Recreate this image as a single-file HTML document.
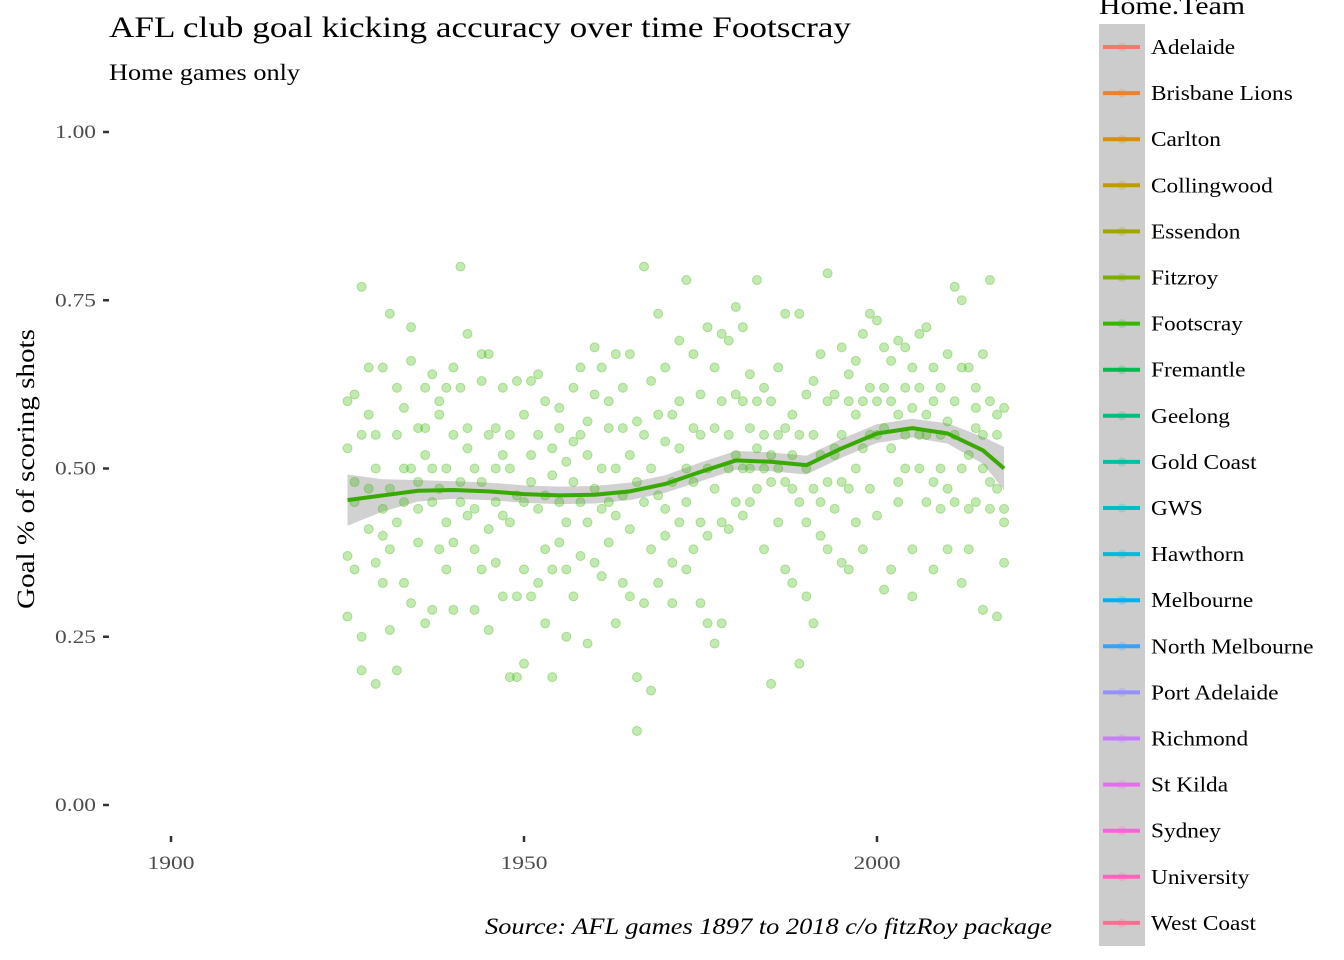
<!DOCTYPE html>
<html><head><meta charset="utf-8"><style>
html,body{margin:0;padding:0;background:#fff}
svg{display:block;font-family:"Liberation Serif",serif}
</style></head><body>
<svg id="chart" width="1344" height="960" viewBox="0 0 1344 960" xmlns="http://www.w3.org/2000/svg">
<text x="109" y="37" font-size="30" textLength="742" lengthAdjust="spacingAndGlyphs">AFL club goal kicking accuracy over time Footscray</text>
<text x="109" y="80" font-size="23" textLength="191" lengthAdjust="spacingAndGlyphs">Home games only</text>
<text transform="translate(34,469) rotate(-90)" text-anchor="middle" font-size="25" textLength="280" lengthAdjust="spacingAndGlyphs">Goal % of scoring shots</text>
<text x="485" y="934" font-size="23" font-style="italic" textLength="567" lengthAdjust="spacingAndGlyphs">Source: AFL games 1897 to 2018 c/o fitzRoy package</text>
<g id="axes"></g>
<g id="band"></g>
<g id="pts"></g>
<g id="line"></g>
<g id="legend"></g>
</svg>
<script>
const xTicks=[1900,1950,2000];
const yTicks=[0,0.25,0.5,0.75,1];
const yTickLabels=["0.00","0.25","0.50","0.75","1.00"];
const years=[1925,1926,1927,1928,1929,1930,1931,1932,1933,1934,1935,1936,1937,1938,1939,1940,1941,1942,1943,1944,1945,1946,1947,1948,1949,1950,1951,1952,1953,1954,1955,1956,1957,1958,1959,1960,1961,1962,1963,1964,1965,1966,1967,1968,1969,1970,1971,1972,1973,1974,1975,1976,1977,1978,1979,1980,1981,1982,1983,1984,1985,1986,1987,1988,1989,1990,1991,1992,1993,1994,1995,1996,1997,1998,1999,2000,2001,2002,2003,2004,2005,2006,2007,2008,2009,2010,2011,2012,2013,2014,2015,2016,2017,2018];
const values=[
[0.53,0.37,0.6,0.28],[0.48,0.61,0.35,0.45],[0.77,0.25,0.2,0.55],[0.47,0.58,0.41,0.65],[0.36,0.18,0.5,0.55],
[0.65,0.44,0.33,0.4],[0.73,0.26,0.47,0.38],[0.2,0.55,0.42,0.62],[0.59,0.33,0.45,0.5],[0.71,0.3,0.5,0.66],
[0.56,0.39,0.44,0.48],[0.27,0.52,0.56,0.62],[0.64,0.29,0.45,0.5],[0.38,0.58,0.47,0.6],[0.35,0.5,0.62,0.42],
[0.39,0.55,0.65,0.29],[0.8,0.48,0.62,0.45],[0.43,0.7,0.53,0.56],[0.29,0.44,0.5,0.38],[0.35,0.63,0.48,0.67],
[0.26,0.55,0.41,0.67],[0.5,0.36,0.56,0.45],[0.31,0.43,0.52,0.62],[0.19,0.5,0.42,0.55],[0.19,0.46,0.63,0.31],
[0.21,0.58,0.35,0.45],[0.63,0.52,0.31,0.48],[0.33,0.44,0.55,0.64],[0.27,0.6,0.38,0.46],[0.19,0.53,0.35,0.49],
[0.39,0.59,0.45,0.56],[0.25,0.42,0.51,0.35],[0.62,0.31,0.48,0.54],[0.45,0.55,0.37,0.65],[0.24,0.52,0.42,0.57],
[0.36,0.68,0.47,0.61],[0.44,0.5,0.65,0.34],[0.56,0.39,0.6,0.45],[0.27,0.5,0.67,0.43],[0.33,0.46,0.56,0.62],
[0.31,0.52,0.41,0.67],[0.19,0.11,0.48,0.57],[0.8,0.3,0.45,0.55],[0.17,0.5,0.38,0.63],[0.33,0.73,0.46,0.58],
[0.44,0.54,0.65,0.4],[0.3,0.48,0.58,0.36],[0.69,0.42,0.53,0.6],[0.35,0.5,0.78,0.45],[0.48,0.67,0.38,0.56],
[0.3,0.55,0.42,0.61],[0.4,0.5,0.71,0.27],[0.24,0.47,0.56,0.65],[0.27,0.42,0.6,0.7],[0.41,0.5,0.69,0.55],
[0.45,0.74,0.52,0.61],[0.43,0.6,0.71,0.5],[0.5,0.56,0.64,0.45],[0.47,0.78,0.53,0.6],[0.38,0.55,0.62,0.5],
[0.18,0.48,0.6,0.52],[0.42,0.55,0.65,0.5],[0.35,0.73,0.48,0.56],[0.33,0.47,0.58,0.52],[0.21,0.73,0.45,0.55],
[0.31,0.5,0.61,0.42],[0.27,0.47,0.55,0.63],[0.4,0.52,0.67,0.45],[0.79,0.48,0.38,0.6],[0.44,0.61,0.52,0.53],
[0.36,0.68,0.48,0.55],[0.47,0.6,0.35,0.64],[0.5,0.58,0.42,0.66],[0.38,0.7,0.53,0.6],[0.47,0.62,0.55,0.73],
[0.43,0.6,0.72,0.55],[0.32,0.56,0.62,0.68],[0.35,0.53,0.66,0.6],[0.48,0.58,0.69,0.45],[0.5,0.62,0.55,0.68],
[0.31,0.59,0.38,0.65],[0.55,0.7,0.5,0.62],[0.45,0.71,0.58,0.55],[0.35,0.6,0.48,0.65],[0.5,0.62,0.55,0.44],
[0.38,0.57,0.67,0.47],[0.77,0.45,0.6,0.55],[0.33,0.75,0.5,0.65],[0.38,0.52,0.65,0.44],[0.59,0.45,0.56,0.62],
[0.29,0.5,0.67,0.55],[0.78,0.48,0.6,0.44],[0.28,0.55,0.47,0.58],[0.36,0.44,0.59,0.42]
];
const smoothYears=[1925,1930,1935,1940,1945,1950,1955,1960,1965,1970,1975,1980,1985,1990,1995,2000,2005,2010,2015,2018];
const smoothVals=[0.453,0.460,0.467,0.468,0.466,0.462,0.460,0.461,0.466,0.477,0.495,0.512,0.510,0.505,0.53,0.552,0.560,0.552,0.527,0.500];
const smoothSE=[0.038,0.024,0.016,0.013,0.013,0.013,0.013,0.013,0.013,0.013,0.014,0.014,0.014,0.014,0.014,0.014,0.014,0.015,0.02,0.032];
const teams=["Adelaide","Brisbane Lions","Carlton","Collingwood","Essendon","Fitzroy","Footscray","Fremantle","Geelong","Gold Coast","GWS","Hawthorn","Melbourne","North Melbourne","Port Adelaide","Richmond","St Kilda","Sydney","University","West Coast"];
const teamColors=["#F8766D","#EA8331","#D89000","#C09B00","#A3A500","#7CAE00","#39B600","#00BB4E","#00BF7D","#00C1A3","#00BFC4","#00BAE0","#00B0F6","#35A2FF","#9590FF","#C77CFF","#E76BF3","#FA62DB","#FF62BC","#FF6C91"];

const NS="http://www.w3.org/2000/svg";
const X=v=>171+(v-1900)*(877-171)/100;
const Y=v=>805-v*673;
function mk(tag,attrs,parent){const e=document.createElementNS(NS,tag);for(const k in attrs)e.setAttribute(k,attrs[k]);parent.appendChild(e);return e;}
const axes=document.getElementById('axes');
yTicks.forEach((t,i)=>{
  const l=mk('line',{x1:103,x2:109,y1:Y(t),y2:Y(t),stroke:'#333','stroke-width':2.5},axes);
  
  
  const tx=mk('text',{x:55,y:Y(t)+6,'font-size':19,fill:'#4d4d4d',textLength:41,lengthAdjust:'spacingAndGlyphs'},axes);
  
  
  tx.textContent=yTickLabels[i];
});
xTicks.forEach(t=>{
  const l=mk('line',{x1:X(t),x2:X(t),y1:836,y2:842,stroke:'#333','stroke-width':2.5},axes);
  
  
  const tx=mk('text',{x:X(t)-23.5,y:869,'font-size':19,fill:'#4d4d4d',textLength:47,lengthAdjust:'spacingAndGlyphs'},axes);
  
  
  tx.textContent=t;
});
const pts=document.getElementById('pts');
years.forEach((yr,i)=>values[i].forEach(v=>{
  const c=mk('circle',{cx:X(yr),cy:Y(v),r:4.5,fill:'#39B600','fill-opacity':0.3,stroke:'#39B600','stroke-opacity':0.35,'stroke-width':1},pts);
  
  
}));
let up=smoothYears.map((y,i)=>X(y)+','+Y(smoothVals[i]+smoothSE[i]));
let dn=smoothYears.map((y,i)=>X(y)+','+Y(smoothVals[i]-smoothSE[i])).reverse();
const band=mk('polygon',{points:up.concat(dn).join(' '),fill:'#999','fill-opacity':0.45},document.getElementById('band'));


const ln=mk('polyline',{points:smoothYears.map((y,i)=>X(y)+','+Y(smoothVals[i])).join(' '),fill:'none',stroke:'#39AA00','stroke-width':4,'stroke-linejoin':'round'},document.getElementById('line'));


const lg=document.getElementById('legend');
const lt=mk('text',{x:1099,y:14,'font-size':25,textLength:146,lengthAdjust:'spacingAndGlyphs'},lg);


lt.textContent='Home.Team';
const bg=mk('rect',{x:1099,y:24,width:46,height:922,fill:'#cccccc'},lg);


teams.forEach((t,i)=>{
  const y=47+i*46.1;
  const g=mk('g',{},lg);
  
  
  mk('line',{x1:1103,x2:1140,y1:y,y2:y,stroke:teamColors[i],'stroke-width':4},g);
  mk('circle',{cx:1122,cy:y,r:4.5,fill:teamColors[i],'fill-opacity':0.25},g);
  const tx=mk('text',{x:1151,y:y+7,'font-size':21},g);
  tx.textContent=t;
  const w=tx.getComputedTextLength();
  tx.setAttribute('textLength',w*1.11);
  tx.setAttribute('lengthAdjust','spacingAndGlyphs');
});
</script>
</body></html>
